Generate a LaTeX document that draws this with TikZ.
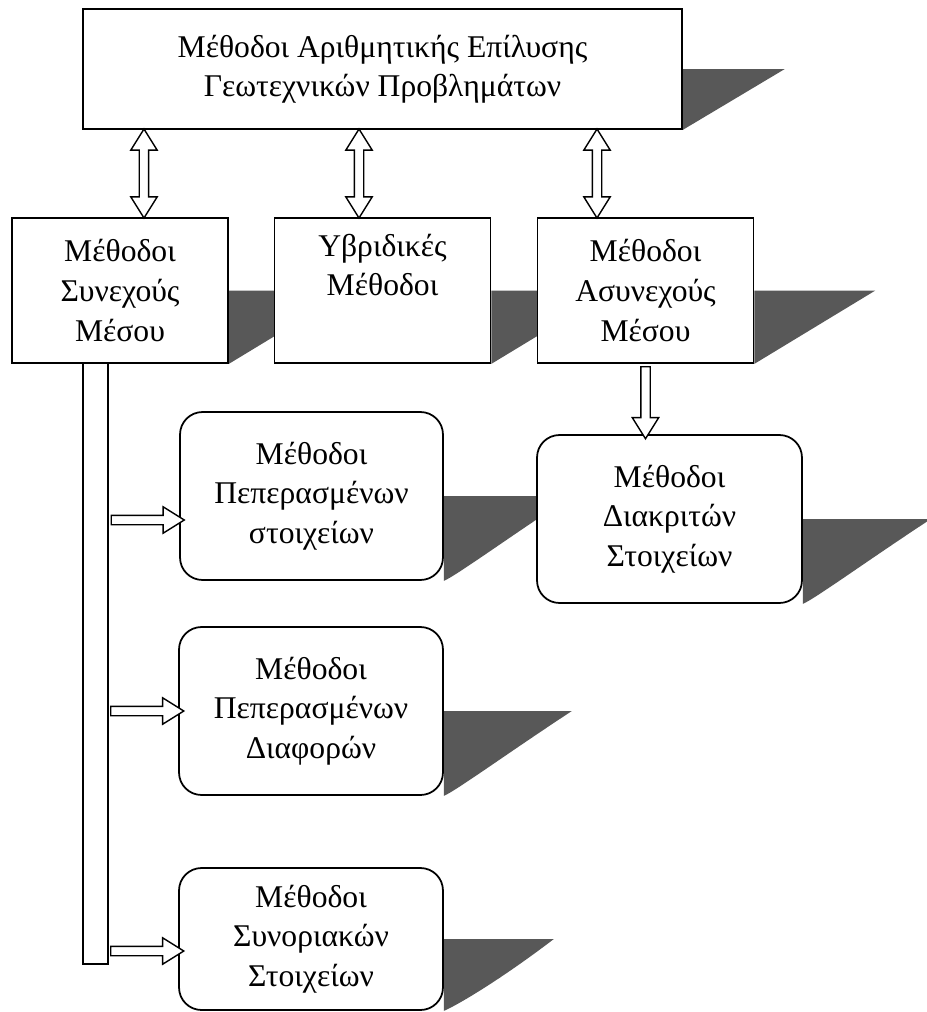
\documentclass[tikz,border=0pt]{standalone}
\usepackage{fontspec}
\setmainfont{Liberation Serif}
\usetikzlibrary{shapes.arrows,backgrounds}
\definecolor{shadowgray}{RGB}{88,88,88}

\begin{document}
\begin{tikzpicture}[x=0.02cm,y=-0.02cm,
  box/.style={draw,line width=1pt,fill=white,align=center,font=\fontsize{18}{22.5}\selectfont},
  rbox/.style={box,rounded corners=0.45cm},
  shade/.style={fill=shadowgray},
  blockarrow/.style={single arrow,draw,fill=white,line width=0.8pt,inner sep=0.08cm,single arrow head extend=0.17cm,single arrow tip angle=64},
  twoarrow/.style={double arrow,draw,fill=white,line width=0.8pt,inner sep=0.08cm,double arrow head extend=0.17cm,double arrow tip angle=64}]
\useasboundingbox (0,0) rectangle (927,1012);
\node[box,minimum width=11.98cm,minimum height=2.4cm] (top) at (382.5,69) {Μέθοδοι Αριθμητικής Επίλυσης\\Γεωτεχνικών Προβλημάτων};
\node[box,minimum width=4.32cm,minimum height=2.9cm] (cont) at (120,290.5) {Μέθοδοι\\Συνεχούς\\Μέσου};
\node[box,minimum width=4.32cm,minimum height=2.9cm] (hybr) at (382.5,290.5) {Υβριδικές\\Μέθοδοι\\\strut};
\node[box,minimum width=4.32cm,minimum height=2.9cm] (disc) at (645.5,290.5) {Μέθοδοι\\Ασυνεχούς\\Μέσου};
\node[rbox,minimum width=5.26cm,minimum height=3.36cm] (fem) at (311.5,496) {Μέθοδοι\\Πεπερασμένων\\στοιχείων};
\node[rbox,minimum width=5.3cm,minimum height=3.36cm] (dem) at (669.5,519) {Μέθοδοι\\Διακριτών\\Στοιχείων};
\node[rbox,minimum width=5.28cm,minimum height=3.36cm] (fdm) at (311,711) {Μέθοδοι\\Πεπερασμένων\\Διαφορών};
\node[rbox,minimum width=5.28cm,minimum height=2.84cm] (bem) at (311,939) {Μέθοδοι\\Συνοριακών\\Στοιχείων};
\node[draw,line width=1pt,minimum width=0.5cm,minimum height=12.02cm,inner sep=0] (bus) at (95.5,663.5) {};
\begin{scope}[on background layer]
\fill[shade] (top.east) -- ++(102,0) -- (top.south east) -- cycle;
\foreach \n/\w in {cont/121,hybr/121,disc/121}
  \fill[shade] (\n.east) -- ++(\w,0) -- (\n.south east) -- cycle;
\foreach \n/\w in {fem/128,dem/128,fdm/128,bem/110}
  \fill[shade] (\n.east) -- ++(\w,0) .. controls +(-0.5*\w,42) and +(12,-5) .. (\n.south east) -- cycle;
\end{scope}
\path ([xshift=0.48cm]cont.north) -- ([xshift=0.48cm]cont.north |- top.south) node[midway,twoarrow,rotate=90,minimum height=1.78cm] {};
\path ([xshift=-0.47cm]hybr.north) -- ([xshift=-0.47cm]hybr.north |- top.south) node[midway,twoarrow,rotate=90,minimum height=1.78cm] {};
\path ([xshift=-0.97cm]disc.north) -- ([xshift=-0.97cm]disc.north |- top.south) node[midway,twoarrow,rotate=90,minimum height=1.78cm] {};
\path (disc.south) -- (disc.south |- dem.north) node[midway,blockarrow,rotate=-90,minimum height=1.44cm] {};
\path ([yshift=-0.48cm]fem.west -| bus.east) -- ([yshift=-0.48cm]fem.west) node[midway,blockarrow,minimum height=1.46cm] {};
\path (fdm.west -| bus.east) -- (fdm.west) node[midway,blockarrow,minimum height=1.46cm] {};
\path ([yshift=-0.24cm]bem.west -| bus.east) -- ([yshift=-0.24cm]bem.west) node[midway,blockarrow,minimum height=1.46cm] {};
\end{tikzpicture}
\end{document}
